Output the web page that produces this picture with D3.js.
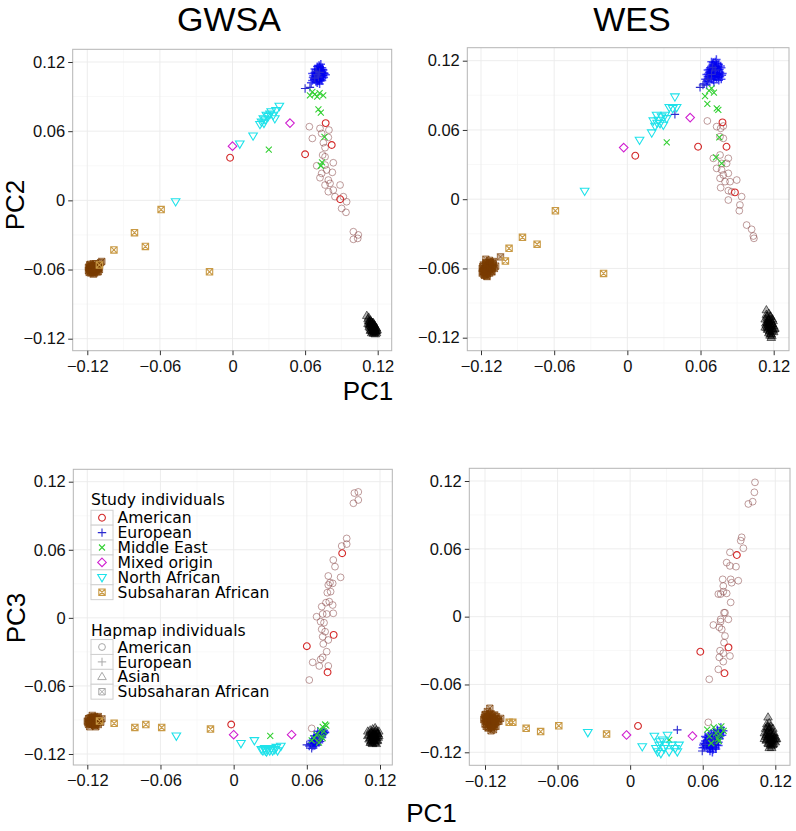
<!DOCTYPE html>
<html><head><meta charset="utf-8">
<script src="https://cdn.jsdelivr.net/npm/d3@7"></script>
<style>body{margin:0;background:#fff}svg{display:block}</style>
</head><body><svg id="c" width="796" height="831"></svg>
<script>
// ---------------- DATA ----------------
const tickValues = [-0.12, -0.06, 0, 0.06, 0.12];
const tickLabels = ["\u22120.12", "\u22120.06", "0", "0.06", "0.12"];
const minorTicks = [-0.09, -0.03, 0.03, 0.09];
const panelTitles = ["GWSA", "WES"];
const studyGroups = ["American", "European", "Middle East", "Mixed origin", "North African", "Subsaharan African"];
const hapmapGroups = ["American", "European", "Asian", "Subsaharan African"];

// Study individuals: [PC1, PC2, PC3]
const gwsaStudyAmerican = [[-0.002,0.037,-0.094],[0.060,0.040,-0.025],[0.077,0.067,-0.048],[0.082,0.048,-0.015],[0.089,0.001,0.057]];
const gwsaStudyEuropean = [[0.060,0.097,-0.112],[0.064,0.098,-0.115],[0.068,0.106,-0.110],[0.070,0.109,-0.107],[0.072,0.111,-0.104],[0.071,0.107,-0.109],[0.069,0.112,-0.106]];
const gwsaStudyMiddleEast = [[0.030,0.044,-0.104],[0.064,0.091,-0.108],[0.066,0.094,-0.106],[0.068,0.092,-0.103],[0.070,0.090,-0.110],[0.072,0.093,-0.105],[0.071,0.079,-0.099],[0.073,0.076,-0.096],[0.076,0.055,-0.095],[0.074,0.033,-0.100],[0.073,0.030,-0.106],[0.075,0.091,-0.094]];
const gwsaStudyMixed = [[0.000,0.047,-0.103],[0.0475,0.067,-0.103]];
const gwsaStudyNorthAfrican = [[-0.047,-0.001,-0.104],[0.006,0.049,-0.1106],[0.017,0.056,-0.108],[0.0227,0.066,-0.116],[0.024,0.068,-0.117],[0.0255,0.071,-0.115],[0.027,0.070,-0.118],[0.028,0.074,-0.116],[0.0296,0.073,-0.117],[0.031,0.075,-0.115],[0.032,0.077,-0.117],[0.0337,0.074,-0.116],[0.035,0.071,-0.114],[0.036,0.078,-0.117],[0.0387,0.0818,-0.113],[0.026,0.067,-0.117]];
const gwsaStudySubsaharan = [[-0.059,-0.008,-0.0966],[-0.081,-0.028,-0.0966],[-0.072,-0.040,-0.094],[-0.098,-0.043,-0.093],[-0.019,-0.062,-0.098],[-0.110,-0.056,-0.091]];

const wesStudyAmerican = [[0.0065,0.0377,-0.0967],[0.058,0.0455,-0.031],[0.078,0.0666,-0.050],[0.0813,0.0455,-0.0272],[0.0882,0.0059,0.0545]];
const wesStudyEuropean = [[0.0596,0.0969,-0.1188],[0.039,0.0735,-0.1002],[0.062,0.099,-0.113],[0.066,0.104,-0.110],[0.069,0.108,-0.107],[0.072,0.112,-0.104],[0.070,0.114,-0.112]];
const wesStudyMiddleEast = [[0.0323,0.0493,-0.109],[0.0637,0.0894,-0.100],[0.0656,0.0825,-0.106],[0.0691,0.096,-0.098],[0.071,0.0923,-0.103],[0.0733,0.0787,-0.110],[0.0746,0.0773,-0.104],[0.0754,0.0535,-0.097],[0.0727,0.0362,-0.108],[0.0773,0.031,-0.101],[0.067,0.094,-0.112]];
const wesStudyMixed = [[-0.003,0.0447,-0.1047],[0.0515,0.0707,-0.1056]];
const wesStudyNorthAfrican = [[-0.035,0.0071,-0.1023],[0.010,0.0513,-0.1149],[0.020,0.0576,-0.1056],[0.0213,0.068,-0.1165],[0.0227,0.0634,-0.1194],[0.024,0.0729,-0.1135],[0.0254,0.0686,-0.1209],[0.0268,0.0657,-0.109],[0.0281,0.0715,-0.1165],[0.0295,0.0643,-0.1135],[0.0309,0.0729,-0.1047],[0.0322,0.070,-0.1194],[0.0344,0.0796,-0.1135],[0.0372,0.0787,-0.1165],[0.039,0.0888,-0.1194],[0.0404,0.0796,-0.1135],[0.0245,0.066,-0.1105]];
const wesStudySubsaharan = [[-0.059,-0.010,-0.0965],[-0.086,-0.033,-0.0988],[-0.074,-0.039,-0.1017],[-0.097,-0.0426,-0.0935],[-0.100,-0.0536,-0.0935],[-0.0195,-0.0643,-0.1038]];

// Hapmap individuals: [PC1, PCk]
const gwsaHapAmericanPC2 = [[0.0635,0.0639],[0.0723,0.0624],[0.0797,0.061],[0.066,0.0537],[0.0737,0.058],[0.0751,0.050],[0.0792,0.0546],[0.0765,0.0457],[0.0745,0.0393],[0.0765,0.0378],[0.0696,0.030],[0.0765,0.0306],[0.0833,0.0326],[0.0737,0.0234],[0.0778,0.0263],[0.0825,0.0243],[0.0723,0.0196],[0.0792,0.0176],[0.0806,0.0147],[0.0889,0.0133],[0.0765,0.0133],[0.0792,0.0075],[0.0833,0.0089],[0.0847,0.0032],[0.0916,0.0032],[0.0943,-0.0012],[0.0902,-0.007],[0.0938,-0.0104],[0.0999,-0.0272],[0.104,-0.030],[0.0999,-0.0338],[0.1035,-0.033]];
const gwsaHapAmericanPC3 = [[0.0982,0.101],[0.1022,0.1039],[0.099,0.110],[0.1022,0.111],[0.0927,0.070],[0.0886,0.0633],[0.0927,0.065],[0.0877,0.0357],[0.0817,0.051],[0.0831,0.0451],[0.0776,0.0369],[0.079,0.031],[0.0776,0.029],[0.0812,0.0304],[0.0768,0.0222],[0.0795,0.0231],[0.0757,0.0134],[0.0784,0.0143],[0.0812,0.0113],[0.0722,0.0099],[0.073,0.0034],[0.0763,0.0034],[0.0817,0.004],[0.068,0.001],[0.0713,-0.0034],[0.0741,-0.0043],[0.0722,-0.0101],[0.075,-0.0122],[0.073,-0.0166],[0.0776,-0.0195],[0.0735,-0.023],[0.0763,-0.0298],[0.0713,-0.0366],[0.073,-0.0348],[0.0776,-0.0424],[0.0648,-0.0392],[0.0702,-0.0424],[0.062,-0.0548],[0.064,-0.0974]];
const gwsaHapEuropeanPC2 = [[0.066,0.104],[0.068,0.106],[0.069,0.103],[0.070,0.108],[0.071,0.105],[0.072,0.110],[0.073,0.107],[0.074,0.111],[0.075,0.108],[0.070,0.112],[0.069,0.110],[0.071,0.114],[0.072,0.116],[0.073,0.113],[0.074,0.115],[0.076,0.110],[0.067,0.108],[0.068,0.111],[0.070,0.102],[0.072,0.104],[0.075,0.113],[0.071,0.109],[0.073,0.118],[0.065,0.102],[0.077,0.109],[0.068,0.114],[0.074,0.104],[0.066,0.110],[0.072,0.101],[0.070,0.116],
  [0.0675,0.105],[0.0685,0.1075],[0.0695,0.1055],[0.0705,0.1065],[0.0715,0.1075],[0.0725,0.1065],[0.0735,0.1095],[0.0745,0.1085],[0.0705,0.1105],[0.0715,0.1115],[0.0725,0.1125],[0.0735,0.1115],[0.0695,0.1135],[0.0715,0.117],[0.0745,0.1135],[0.0755,0.1105],[0.0685,0.1095],[0.0715,0.1035],[0.0725,0.108],[0.0695,0.108],[0.0735,0.105],[0.0705,0.104],[0.0725,0.115],[0.0755,0.1065],[0.0665,0.1065]];
const gwsaHapEuropeanPC3 = [[0.062,-0.113],[0.063,-0.111],[0.064,-0.112],[0.065,-0.109],[0.066,-0.110],[0.066,-0.107],[0.067,-0.108],[0.068,-0.105],[0.068,-0.109],[0.069,-0.106],[0.069,-0.103],[0.070,-0.104],[0.070,-0.108],[0.071,-0.102],[0.071,-0.105],[0.072,-0.101],[0.072,-0.104],[0.073,-0.100],[0.073,-0.103],[0.074,-0.099],[0.065,-0.113],[0.067,-0.111],[0.068,-0.112],[0.070,-0.110],[0.071,-0.107],[0.064,-0.108],[0.066,-0.104],[0.074,-0.102],[0.069,-0.100],[0.075,-0.101],
  [0.0635,-0.1115],[0.0645,-0.1105],[0.0655,-0.1115],[0.0665,-0.1085],[0.0675,-0.1065],[0.0685,-0.1075],[0.0695,-0.1045],[0.0705,-0.1055],[0.0715,-0.1035],[0.0725,-0.1025],[0.0735,-0.1015],[0.0675,-0.1095],[0.0695,-0.1085],[0.0705,-0.1025],[0.0685,-0.1035],[0.0725,-0.1055],[0.0665,-0.1125],[0.0655,-0.1065],[0.0715,-0.1005],[0.0745,-0.1005]];
const gwsaHapAsianPC2 = [[0.111,-0.100],[0.112,-0.103],[0.113,-0.105],[0.114,-0.104],[0.113,-0.108],[0.114,-0.107],[0.115,-0.106],[0.115,-0.109],[0.116,-0.108],[0.116,-0.111],[0.117,-0.110],[0.117,-0.113],[0.118,-0.112],[0.118,-0.114],[0.119,-0.113],[0.115,-0.112],[0.114,-0.111],[0.116,-0.114],[0.117,-0.115],[0.119,-0.111],[0.113,-0.110],[0.115,-0.115],[0.118,-0.116],[0.116,-0.106],[0.117,-0.108],[0.114,-0.113],[0.119,-0.115],[0.112,-0.107],
  [0.1125,-0.1045],[0.1135,-0.1065],[0.1145,-0.1055],[0.1155,-0.1075],[0.1165,-0.1095],[0.1175,-0.1115],[0.1185,-0.1135],[0.1145,-0.1095],[0.1155,-0.1105],[0.1165,-0.1125],[0.1175,-0.1135],[0.1155,-0.1135],[0.1165,-0.1155],[0.1185,-0.1105],[0.1135,-0.1085],[0.1145,-0.1125],[0.1175,-0.1085],[0.1195,-0.1125],[0.1125,-0.1015],[0.1165,-0.1065]];
const gwsaHapAsianPC3 = [[0.110,-0.100],[0.111,-0.103],[0.112,-0.099],[0.112,-0.106],[0.113,-0.102],[0.113,-0.109],[0.114,-0.098],[0.114,-0.105],[0.115,-0.101],[0.115,-0.108],[0.116,-0.103],[0.116,-0.110],[0.117,-0.099],[0.117,-0.106],[0.118,-0.102],[0.118,-0.108],[0.119,-0.104],[0.111,-0.107],[0.112,-0.110],[0.114,-0.111],[0.116,-0.097],[0.119,-0.100],[0.113,-0.104],[0.115,-0.105],[0.117,-0.111],[0.110,-0.104],
  [0.1125,-0.1015],[0.1135,-0.1005],[0.1145,-0.1025],[0.1155,-0.1035],[0.1165,-0.1005],[0.1175,-0.1045],[0.1185,-0.1055],[0.1125,-0.1055],[0.1135,-0.1075],[0.1145,-0.1085],[0.1155,-0.1065],[0.1165,-0.1075],[0.1175,-0.1085],[0.1185,-0.1025],[0.1145,-0.1045],[0.1165,-0.1045],[0.1155,-0.1095],[0.1125,-0.1085],[0.1175,-0.1015],[0.1135,-0.1105]];
const gwsaHapSubsaharanPC2 = [[-0.119,-0.058],[-0.118,-0.060],[-0.117,-0.057],[-0.116,-0.059],[-0.115,-0.061],[-0.114,-0.058],[-0.113,-0.060],[-0.112,-0.057],[-0.111,-0.059],[-0.110,-0.056],[-0.116,-0.062],[-0.114,-0.063],[-0.112,-0.062],[-0.118,-0.056],[-0.115,-0.055],[-0.113,-0.055],[-0.110,-0.060],[-0.117,-0.063],[-0.109,-0.054],[-0.108,-0.053],[-0.111,-0.062],[-0.119,-0.061],[-0.115,-0.064],[-0.113,-0.058],[-0.116,-0.057],[-0.112,-0.059],
  [-0.1185,-0.059],[-0.1175,-0.0585],[-0.1165,-0.0605],[-0.1155,-0.0575],[-0.1145,-0.0605],[-0.1135,-0.0615],[-0.1125,-0.0585],[-0.1115,-0.0575],[-0.1165,-0.0585],[-0.1155,-0.0625],[-0.1175,-0.0615],[-0.1145,-0.0565],[-0.1125,-0.0605],[-0.1105,-0.0585],[-0.1185,-0.0625],[-0.1135,-0.0565],[-0.1155,-0.0595],[-0.1175,-0.0555]];
const gwsaHapSubsaharanPC3 = [[-0.120,-0.091],[-0.119,-0.089],[-0.118,-0.093],[-0.117,-0.088],[-0.117,-0.091],[-0.116,-0.094],[-0.115,-0.089],[-0.115,-0.092],[-0.114,-0.087],[-0.114,-0.095],[-0.113,-0.090],[-0.113,-0.093],[-0.112,-0.088],[-0.112,-0.091],[-0.111,-0.094],[-0.110,-0.090],[-0.109,-0.092],[-0.118,-0.096],[-0.116,-0.086],[-0.119,-0.094],[-0.111,-0.087],[-0.108,-0.089],[-0.113,-0.096],[-0.116,-0.090],
  [-0.1185,-0.0915],[-0.1175,-0.0905],[-0.1165,-0.0925],[-0.1155,-0.0905],[-0.1145,-0.0915],[-0.1135,-0.0885],[-0.1125,-0.0925],[-0.1115,-0.0905],[-0.1165,-0.0885],[-0.1155,-0.0935],[-0.1175,-0.0935],[-0.1145,-0.0935],[-0.1125,-0.0895],[-0.1105,-0.0915],[-0.1185,-0.0885],[-0.1135,-0.0945],[-0.1195,-0.0925],[-0.1155,-0.0875]];

const wesHapAmericanPC2 = [[0.0656,0.0678],[0.0732,0.0629],[0.0765,0.0614],[0.0787,0.0634],[0.076,0.0542],[0.0787,0.0527],[0.0705,0.0354],[0.076,0.0383],[0.0828,0.0354],[0.0773,0.031],[0.0814,0.031],[0.0732,0.0267],[0.0773,0.0253],[0.0828,0.0224],[0.0787,0.021],[0.076,0.0181],[0.0801,0.0152],[0.0842,0.0152],[0.0897,0.0166],[0.0765,0.010],[0.0828,0.0074],[0.0855,0.0065],[0.0828,-0.0007],[0.0937,0.0022],[0.0923,-0.005],[0.0918,-0.010],[0.0978,-0.0224],[0.1019,-0.0261],[0.1033,-0.0319],[0.1038,-0.0339]];
const wesHapAmericanPC3 = [[0.1032,0.1188],[0.1027,0.110],[0.1013,0.1017],[0.0977,0.0997],[0.0922,0.0702],[0.0914,0.0672],[0.0936,0.0605],[0.0825,0.0569],[0.0798,0.0478],[0.0825,0.0449],[0.0875,0.0442],[0.0765,0.033],[0.0831,0.033],[0.0894,0.0318],[0.0839,0.030],[0.077,0.0271],[0.0729,0.020],[0.0748,0.020],[0.077,0.0221],[0.0798,0.0206],[0.0831,0.0126],[0.0784,0.0035],[0.0776,0.0035],[0.0748,-0.0024],[0.0812,-0.0024],[0.0688,-0.0074],[0.0737,-0.0094],[0.0748,-0.0044],[0.0757,-0.0112],[0.0784,-0.0171],[0.0776,-0.023],[0.0743,-0.0301],[0.077,-0.0324],[0.0825,-0.0348],[0.0737,-0.036],[0.077,-0.0398],[0.0729,-0.0466],[0.0654,-0.0554],[0.0646,-0.0935]];
const wesHapEuropeanPC2 = [[0.063,0.100],[0.064,0.104],[0.065,0.099],[0.066,0.106],[0.067,0.102],[0.067,0.110],[0.068,0.108],[0.068,0.114],[0.069,0.104],[0.069,0.112],[0.070,0.109],[0.070,0.117],[0.071,0.106],[0.071,0.113],[0.072,0.110],[0.072,0.119],[0.073,0.105],[0.073,0.115],[0.074,0.108],[0.074,0.112],[0.075,0.103],[0.075,0.117],[0.076,0.110],[0.076,0.106],[0.077,0.114],[0.078,0.109],[0.066,0.112],[0.069,0.119],[0.071,0.101],[0.073,0.121],[0.077,0.104],[0.065,0.108],
  [0.0655,0.1025],[0.0665,0.1045],[0.0675,0.1065],[0.0685,0.1105],[0.0695,0.1075],[0.0705,0.1035],[0.0705,0.1125],[0.0715,0.1095],[0.0715,0.1155],[0.0725,0.1065],[0.0725,0.1135],[0.0735,0.1085],[0.0735,0.1175],[0.0745,0.1055],[0.0745,0.1145],[0.0755,0.1085],[0.0755,0.1125],[0.0765,0.1155],[0.0695,0.1155],[0.0675,0.1125],[0.0665,0.1085],[0.0775,0.1075],[0.0705,0.1185],[0.0715,0.1065]];
const wesHapEuropeanPC3 = [[0.060,-0.116],[0.061,-0.112],[0.062,-0.110],[0.063,-0.114],[0.063,-0.107],[0.064,-0.111],[0.064,-0.117],[0.065,-0.105],[0.065,-0.109],[0.066,-0.113],[0.066,-0.119],[0.067,-0.103],[0.067,-0.108],[0.068,-0.111],[0.068,-0.115],[0.069,-0.101],[0.069,-0.106],[0.070,-0.109],[0.070,-0.113],[0.071,-0.104],[0.071,-0.117],[0.072,-0.100],[0.072,-0.107],[0.073,-0.111],[0.074,-0.103],[0.074,-0.108],[0.075,-0.098],[0.076,-0.105],[0.077,-0.101],[0.068,-0.120],[0.062,-0.106],[0.073,-0.114],
  [0.0605,-0.1135],[0.0615,-0.1155],[0.0625,-0.1125],[0.0635,-0.1095],[0.0645,-0.1135],[0.0655,-0.1075],[0.0655,-0.1155],[0.0665,-0.1105],[0.0675,-0.1055],[0.0675,-0.1135],[0.0685,-0.1085],[0.0685,-0.1175],[0.0695,-0.1035],[0.0695,-0.1115],[0.0705,-0.1065],[0.0715,-0.1085],[0.0715,-0.1135],[0.0725,-0.1025],[0.0735,-0.1065],[0.0745,-0.1055],[0.0755,-0.1025],[0.0665,-0.1165],[0.0705,-0.1155]];
const wesHapAsianPC2 = [[0.114,-0.096],[0.114,-0.100],[0.115,-0.103],[0.116,-0.099],[0.113,-0.104],[0.115,-0.107],[0.116,-0.105],[0.117,-0.102],[0.117,-0.108],[0.118,-0.106],[0.114,-0.109],[0.116,-0.111],[0.118,-0.110],[0.119,-0.108],[0.115,-0.113],[0.117,-0.114],[0.119,-0.112],[0.120,-0.110],[0.116,-0.116],[0.118,-0.117],[0.120,-0.115],[0.121,-0.112],[0.118,-0.120],[0.113,-0.111],[0.117,-0.118],[0.119,-0.104],[0.115,-0.110],
  [0.1145,-0.1015],[0.1155,-0.1045],[0.1165,-0.1075],[0.1175,-0.1045],[0.1145,-0.1065],[0.1155,-0.1085],[0.1165,-0.1105],[0.1175,-0.1125],[0.1185,-0.1085],[0.1195,-0.1055],[0.1155,-0.1125],[0.1165,-0.1145],[0.1175,-0.1165],[0.1185,-0.1145],[0.1195,-0.1135],[0.1205,-0.1125],[0.1185,-0.1185],[0.1145,-0.1115],[0.1175,-0.1015],[0.1135,-0.1075]];
const wesHapAsianPC3 = [[0.114,-0.089],[0.113,-0.095],[0.115,-0.094],[0.112,-0.099],[0.114,-0.098],[0.116,-0.097],[0.118,-0.099],[0.111,-0.103],[0.113,-0.102],[0.115,-0.101],[0.117,-0.102],[0.119,-0.103],[0.112,-0.106],[0.114,-0.105],[0.116,-0.106],[0.118,-0.105],[0.120,-0.106],[0.113,-0.109],[0.115,-0.109],[0.117,-0.109],[0.119,-0.110],[0.114,-0.112],[0.116,-0.113],[0.118,-0.113],[0.120,-0.111],[0.115,-0.116],[0.117,-0.116],[0.121,-0.108],[0.111,-0.108],
  [0.1135,-0.0975],[0.1145,-0.1005],[0.1155,-0.0985],[0.1125,-0.1045],[0.1135,-0.1065],[0.1155,-0.1035],[0.1165,-0.1075],[0.1175,-0.1055],[0.1185,-0.1085],[0.1145,-0.1075],[0.1155,-0.1105],[0.1165,-0.1115],[0.1175,-0.1095],[0.1195,-0.1075],[0.1145,-0.1125],[0.1165,-0.1145],[0.1185,-0.1125],[0.1205,-0.1085],[0.1125,-0.1095],[0.1175,-0.1135]];
const wesHapSubsaharanPC2 = [[-0.119,-0.060],[-0.118,-0.057],[-0.118,-0.063],[-0.117,-0.060],[-0.116,-0.055],[-0.116,-0.065],[-0.115,-0.058],[-0.115,-0.062],[-0.114,-0.056],[-0.114,-0.060],[-0.113,-0.064],[-0.113,-0.058],[-0.112,-0.061],[-0.112,-0.055],[-0.111,-0.059],[-0.110,-0.057],[-0.109,-0.060],[-0.117,-0.066],[-0.115,-0.067],[-0.116,-0.052],[-0.110,-0.054],[-0.108,-0.058],[-0.113,-0.053],[-0.119,-0.064],[-0.111,-0.063],[-0.104,-0.050],
  [-0.1185,-0.0585],[-0.1175,-0.0615],[-0.1165,-0.0575],[-0.1165,-0.0635],[-0.1155,-0.0555],[-0.1155,-0.0605],[-0.1145,-0.0645],[-0.1135,-0.0575],[-0.1135,-0.0615],[-0.1125,-0.0545],[-0.1125,-0.0595],[-0.1115,-0.0625],[-0.1105,-0.0595],[-0.1145,-0.0585],[-0.1175,-0.0655],[-0.1155,-0.0665],[-0.1185,-0.0625],[-0.1105,-0.0555]];
const wesHapSubsaharanPC3 = [[-0.121,-0.091],[-0.120,-0.087],[-0.120,-0.095],[-0.119,-0.090],[-0.118,-0.084],[-0.118,-0.093],[-0.117,-0.098],[-0.117,-0.088],[-0.116,-0.091],[-0.116,-0.095],[-0.115,-0.086],[-0.115,-0.093],[-0.114,-0.089],[-0.114,-0.097],[-0.113,-0.092],[-0.113,-0.100],[-0.112,-0.087],[-0.112,-0.095],[-0.111,-0.090],[-0.110,-0.093],[-0.109,-0.091],[-0.116,-0.081],[-0.115,-0.101],[-0.119,-0.097],[-0.107,-0.090],[-0.111,-0.097],
  [-0.1205,-0.0895],[-0.1195,-0.0925],[-0.1185,-0.0885],[-0.1185,-0.0955],[-0.1175,-0.0905],[-0.1165,-0.0865],[-0.1165,-0.0935],[-0.1155,-0.0965],[-0.1155,-0.0895],[-0.1145,-0.0915],[-0.1135,-0.0875],[-0.1135,-0.0955],[-0.1125,-0.0905],[-0.1125,-0.0975],[-0.1115,-0.0935],[-0.1105,-0.0885],[-0.1175,-0.0985],[-0.1145,-0.0985],[-0.1195,-0.0865],[-0.1085,-0.0925]];

// ---------------- STYLE / LAYOUT ----------------
const studyStyle = {
  "American": {shape: "circle", color: "#d42a2a"},
  "European": {shape: "plus", color: "#2a2ad0"},
  "Middle East": {shape: "times", color: "#33d033"},
  "Mixed origin": {shape: "diamond", color: "#d020d0"},
  "North African": {shape: "triDown", color: "#1ee2ea"},
  "Subsaharan African": {shape: "boxX", color: "#c99a45"}
};
const hapStyle = {
  "American": {shape: "circle", color: "#8a4a4a", op: 0.55, fill: "none", sw: 1},
  "European": {shape: "plus", color: "#0000f0", op: 0.7, fill: "none", sw: 1.5},
  "Asian": {shape: "triUp", color: "#000000", op: 0.55, fill: "rgba(0,0,0,0.3)", sw: 1},
  "Subsaharan African": {shape: "boxX", color: "#7a3c00", op: 0.65, fill: "rgba(122,60,0,0.35)", sw: 1}
};
const legendHapColor = "#a8a8a8";

const datasets = {
  gwsa: {
    study: {"American": gwsaStudyAmerican, "European": gwsaStudyEuropean, "Middle East": gwsaStudyMiddleEast, "Mixed origin": gwsaStudyMixed, "North African": gwsaStudyNorthAfrican, "Subsaharan African": gwsaStudySubsaharan},
    hap2: {"American": gwsaHapAmericanPC2, "European": gwsaHapEuropeanPC2, "Asian": gwsaHapAsianPC2, "Subsaharan African": gwsaHapSubsaharanPC2},
    hap3: {"American": gwsaHapAmericanPC3, "European": gwsaHapEuropeanPC3, "Asian": gwsaHapAsianPC3, "Subsaharan African": gwsaHapSubsaharanPC3}
  },
  wes: {
    study: {"American": wesStudyAmerican, "European": wesStudyEuropean, "Middle East": wesStudyMiddleEast, "Mixed origin": wesStudyMixed, "North African": wesStudyNorthAfrican, "Subsaharan African": wesStudySubsaharan},
    hap2: {"American": wesHapAmericanPC2, "European": wesHapEuropeanPC2, "Asian": wesHapAsianPC2, "Subsaharan African": wesHapSubsaharanPC2},
    hap3: {"American": wesHapAmericanPC3, "European": wesHapEuropeanPC3, "Asian": wesHapAsianPC3, "Subsaharan African": wesHapSubsaharanPC3}
  }
};

const panels = [
  {ds: "gwsa", pc: 2, box: [72.7, 49.3, 391.7, 350.7], xr: [87.3, 377.7], yr: [338.7, 62.0]},
  {ds: "wes",  pc: 2, box: [467.3, 47.7, 789.0, 350.7], xr: [481.0, 773.7], yr: [337.7, 60.7]},
  {ds: "gwsa", pc: 3, box: [73.3, 469.3, 392.3, 765.0], xr: [87.3, 380.0], yr: [754.0, 481.7], legend: true},
  {ds: "wes",  pc: 3, box: [469.3, 468.3, 790.0, 765.3], xr: [485.0, 775.3], yr: [752.3, 481.0]}
];

// ---------------- SYMBOLS ----------------
function sym(drawFn) { return {draw: drawFn}; }
const shapes = {
  circle: sym((c, s) => { const r = 3.4; c.moveTo(r, 0); c.arc(0, 0, r, 0, 2 * Math.PI); }),
  plus: sym((c, s) => { const r = 4.2; c.moveTo(-r, 0); c.lineTo(r, 0); c.moveTo(0, -r); c.lineTo(0, r); }),
  times: sym((c, s) => { const r = 3.0; c.moveTo(-r, -r); c.lineTo(r, r); c.moveTo(-r, r); c.lineTo(r, -r); }),
  diamond: sym((c, s) => { const r = 4.3; c.moveTo(0, -r); c.lineTo(r, 0); c.lineTo(0, r); c.lineTo(-r, 0); c.closePath(); }),
  triDown: sym((c, s) => { c.moveTo(-4.3, -2.8); c.lineTo(4.3, -2.8); c.lineTo(0, 4.5); c.closePath(); }),
  triUp: sym((c, s) => { c.moveTo(-4.3, 2.8); c.lineTo(4.3, 2.8); c.lineTo(0, -4.5); c.closePath(); }),
  boxX: sym((c, s) => { const r = 3.2; c.moveTo(-r, -r); c.lineTo(r, -r); c.lineTo(r, r); c.lineTo(-r, r); c.closePath(); c.moveTo(-r, -r); c.lineTo(r, r); c.moveTo(-r, r); c.lineTo(r, -r); })
};
const symGen = d3.symbol().size(64);

// ---------------- DRAW ----------------
const svg = d3.select("#c");
const tickFont = "'Liberation Sans', Arial, sans-serif";

panels.forEach((p, i) => {
  const x = d3.scaleLinear().domain([-0.12, 0.12]).range(p.xr);
  const y = d3.scaleLinear().domain([-0.12, 0.12]).range(p.yr);
  const [x0, y0, x1, y1] = p.box;
  const g = svg.append("g");
  g.append("rect").attr("x", x0).attr("y", y0).attr("width", x1 - x0).attr("height", y1 - y0).attr("fill", "#fff");
  g.selectAll(".mx").data(minorTicks).join("line").attr("x1", d => x(d)).attr("x2", d => x(d)).attr("y1", y0).attr("y2", y1).attr("stroke", "#f6f6f6").attr("stroke-width", 0.8);
  g.selectAll(".my").data(minorTicks).join("line").attr("y1", d => y(d)).attr("y2", d => y(d)).attr("x1", x0).attr("x2", x1).attr("stroke", "#f6f6f6").attr("stroke-width", 0.8);
  g.selectAll(".gx").data(tickValues).join("line").attr("x1", d => x(d)).attr("x2", d => x(d)).attr("y1", y0).attr("y2", y1).attr("stroke", "#ebebeb").attr("stroke-width", 0.9);
  g.selectAll(".gy").data(tickValues).join("line").attr("y1", d => y(d)).attr("y2", d => y(d)).attr("x1", x0).attr("x2", x1).attr("stroke", "#ebebeb").attr("stroke-width", 0.9);

  const clipId = "clip" + i;
  svg.append("clipPath").attr("id", clipId).append("rect").attr("x", x0).attr("y", y0).attr("width", x1 - x0).attr("height", y1 - y0);
  const pts = g.append("g").attr("clip-path", `url(#${clipId})`);
  const ds = datasets[p.ds];
  const hap = p.pc === 2 ? ds.hap2 : ds.hap3;
  ["American", "Asian", "Subsaharan African", "European"].forEach(k => {
    const st = hapStyle[k];
    pts.append("g").selectAll("path").data(hap[k]).join("path")
      .attr("d", symGen.type(shapes[st.shape])())
      .attr("transform", d => `translate(${x(d[0])},${y(d[1])})`)
      .attr("fill", st.fill).attr("stroke", st.color).attr("stroke-opacity", st.op).attr("stroke-width", st.sw);
  });
  studyGroups.forEach(k => {
    const st = studyStyle[k];
    pts.append("g").selectAll("path").data(ds.study[k]).join("path")
      .attr("d", symGen.type(shapes[st.shape])())
      .attr("transform", d => `translate(${x(d[0])},${y(p.pc === 2 ? d[1] : d[2])})`)
      .attr("fill", "none").attr("stroke", st.color).attr("stroke-width", 1.1);
  });

  g.append("rect").attr("x", x0).attr("y", y0).attr("width", x1 - x0).attr("height", y1 - y0).attr("fill", "none").attr("stroke", "#b5b5b5").attr("stroke-width", 1);

  const fmt = (d) => tickLabels[tickValues.indexOf(d)];
  const ax = svg.append("g").attr("transform", `translate(0,${y1})`)
    .call(d3.axisBottom(x).tickValues(tickValues).tickFormat(fmt).tickSize(4.5).tickPadding(5));
  const ay = svg.append("g").attr("transform", `translate(${x0},0)`)
    .call(d3.axisLeft(y).tickValues(tickValues).tickFormat(fmt).tickSize(4.5).tickPadding(3));
  [ax, ay].forEach(a => {
    a.select(".domain").remove();
    a.selectAll(".tick line").attr("stroke", "#333");
    a.selectAll("text").attr("font-family", tickFont).attr("font-size", 16.5).attr("fill", "#111");
  });

  if (p.legend) {
    const lf = "'DejaVu Sans', Verdana, sans-serif";
    const fs = 15.6;
    const lg = svg.append("g");
    const lx = 91, tx = 117.5;
    lg.append("text").attr("x", lx).attr("y", 505).text("Study individuals").attr("font-family", lf).attr("font-size", fs);
    studyGroups.forEach((k, j) => {
      const cy = 517.7 + 14.9 * j;
      lg.append("rect").attr("x", lx).attr("y", cy - 7.45).attr("width", 22).attr("height", 14.9).attr("fill", "#fff").attr("stroke", "#d0d0d0").attr("stroke-width", 1);
      lg.append("path").attr("d", symGen.type(shapes[studyStyle[k].shape])()).attr("transform", `translate(${lx + 11},${cy})`)
        .attr("fill", "none").attr("stroke", studyStyle[k].color).attr("stroke-width", 1.1);
      lg.append("text").attr("x", tx).attr("y", cy + 5.6).text(k).attr("font-family", lf).attr("font-size", fs);
    });
    lg.append("text").attr("x", lx).attr("y", 635.7).text("Hapmap individuals").attr("font-family", lf).attr("font-size", fs);
    hapmapGroups.forEach((k, j) => {
      const cy = 647 + 14.9 * j;
      lg.append("rect").attr("x", lx).attr("y", cy - 7.45).attr("width", 22).attr("height", 14.9).attr("fill", "#fff").attr("stroke", "#d0d0d0").attr("stroke-width", 1);
      lg.append("path").attr("d", symGen.type(shapes[hapStyle[k].shape])()).attr("transform", `translate(${lx + 11},${cy})`)
        .attr("fill", "none").attr("stroke", legendHapColor).attr("stroke-width", 1);
      lg.append("text").attr("x", tx).attr("y", cy + 5.6).text(k).attr("font-family", lf).attr("font-size", fs);
    });
  }
});

const big = "'Liberation Sans', Arial, sans-serif";
svg.append("text").attr("x", 229).attr("y", 31).attr("text-anchor", "middle").attr("font-family", big).attr("font-size", 34).text(panelTitles[0]);
svg.append("text").attr("x", 632).attr("y", 31).attr("text-anchor", "middle").attr("font-family", big).attr("font-size", 34).text(panelTitles[1]);
svg.append("text").attr("transform", "translate(23.5,205) rotate(-90)").attr("text-anchor", "middle").attr("font-family", big).attr("font-size", 26).text("PC2");
svg.append("text").attr("transform", "translate(24.5,618) rotate(-90)").attr("text-anchor", "middle").attr("font-family", big).attr("font-size", 26).text("PC3");
svg.append("text").attr("x", 368).attr("y", 400).attr("text-anchor", "middle").attr("font-family", big).attr("font-size", 26).text("PC1");
svg.append("text").attr("x", 431.5).attr("y", 822).attr("text-anchor", "middle").attr("font-family", big).attr("font-size", 26).text("PC1");
</script></body></html>
